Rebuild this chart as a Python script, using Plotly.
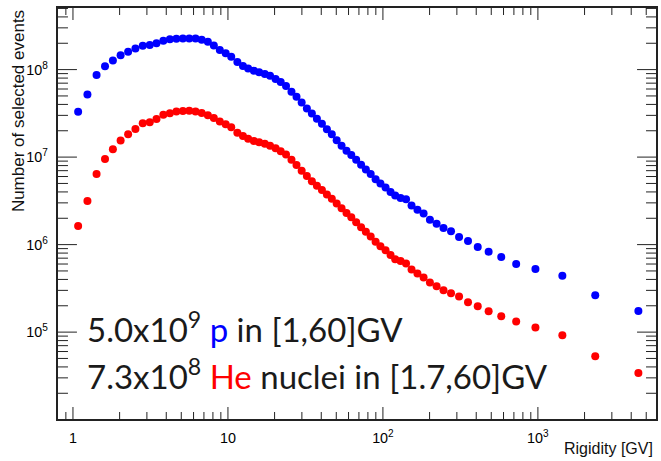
import plotly.graph_objects as go

rigidity = [1.08, 1.24, 1.42, 1.61, 1.81, 2.03, 2.27, 2.53, 2.82, 3.13,
            3.46, 3.83, 4.22, 4.65, 5.12, 5.63, 6.18, 6.77, 7.42, 8.11,
            8.86, 9.67, 10.5, 11.5, 12.5, 13.5, 14.7, 15.9, 17.3, 18.7,
            20.3, 21.9, 23.7, 25.7, 27.7, 29.9, 32.3, 34.8, 37.5, 40.4,
            43.5, 46.8, 50.3, 54.1, 58.2, 62.5, 67.2, 72.3, 77.6, 83.4,
            89.7, 96.4, 104, 112, 120, 130, 141, 153, 167, 183,
            201, 222, 246, 275, 310, 354, 409, 481,
            580, 724, 964, 1438, 2344, 4450]

protons = [3.3e7, 5.2e7, 8.7e7, 1.09e8, 1.27e8, 1.46e8, 1.60e8, 1.74e8, 1.87e8, 1.91e8,
           2.0e8, 2.14e8, 2.22e8, 2.25e8, 2.26e8, 2.27e8, 2.26e8, 2.2e8, 2.08e8, 1.88e8,
           1.68e8, 1.54e8, 1.40e8, 1.22e8, 1.10e8, 1.03e8, 9.7e7, 9.3e7, 8.9e7, 8.5e7,
           7.8e7, 7.2e7, 6.5e7, 5.6e7, 4.9e7, 4.2e7, 3.6e7, 3.15e7, 2.75e7, 2.4e7,
           2.08e7, 1.82e7, 1.56e7, 1.35e7, 1.18e7, 1.06e7, 9.3e6, 8.2e6, 7.2e6, 6.4e6,
           5.6e6, 5.0e6, 4.5e6, 4.0e6, 3.65e6, 3.4e6, 3.3e6, 2.8e6, 2.5e6, 2.26e6,
           1.92e6, 1.73e6, 1.55e6, 1.42e6, 1.22e6, 1.10e6, 9.4e5, 8.3e5,
           7.2e5, 6.0e5, 5.25e5, 4.4e5, 2.64e5, 1.74e5]

helium = [1.63e6, 3.15e6, 6.4e6, 9.5e6, 1.23e7, 1.55e7, 1.83e7, 2.1e7, 2.44e7, 2.51e7,
          2.72e7, 3.04e7, 3.18e7, 3.31e7, 3.36e7, 3.38e7, 3.33e7, 3.2e7, 3.0e7, 2.79e7,
          2.56e7, 2.38e7, 2.2e7, 1.9e7, 1.74e7, 1.62e7, 1.53e7, 1.48e7, 1.42e7, 1.35e7,
          1.26e7, 1.17e7, 1.07e7, 9.3e6, 8.1e6, 7.0e6, 6.1e6, 5.3e6, 4.7e6, 4.2e6,
          3.75e6, 3.35e6, 2.95e6, 2.6e6, 2.3e6, 2.05e6, 1.8e6, 1.58e6, 1.4e6, 1.24e6,
          1.08e6, 9.6e5, 8.6e5, 7.6e5, 6.8e5, 6.5e5, 6.1e5, 5.2e5, 4.67e5, 4.2e5,
          3.7e5, 3.35e5, 3.0e5, 2.78e5, 2.55e5, 2.2e5, 1.97e5, 1.73e5,
          1.52e5, 1.32e5, 1.13e5, 9.2e4, 5.3e4, 3.4e4]

x_major = [1, 10, 100, 1000]
x_minor = [0.9] + [m * d for d in (1, 10, 100) for m in range(2, 10)] + [2000, 3000, 4000, 5000]
y_major = [1e5, 1e6, 1e7, 1e8]
y_minor = [m * d for d in (1e4, 1e5, 1e6, 1e7) for m in range(2, 10)] + [2e8, 3e8, 4e8, 5e8]

X_RANGE = [-0.0965, 3.762]
Y_RANGE = [4.007, 8.704]
W, H = 661, 461
ML, MR, MT, MB = 58, 3, 8, 42
px_per_dec_x = (W - ML - MR) / (X_RANGE[1] - X_RANGE[0])
px_per_dec_y = (H - MT - MB) / (Y_RANGE[1] - Y_RANGE[0])

fig = go.Figure()
fig.add_trace(go.Scatter(x=rigidity, y=protons, mode="markers",
                         marker=dict(color="#0000ff", size=8),
                         showlegend=False))
fig.add_trace(go.Scatter(x=rigidity, y=helium, mode="markers",
                         marker=dict(color="#ff0000", size=8),
                         showlegend=False))

# tick marks (inside, mirrored) built from the tick value lists via the axis scales
ylo, yhi = 10 ** Y_RANGE[0], 10 ** Y_RANGE[1]
xlo, xhi = 10 ** X_RANGE[0], 10 ** X_RANGE[1]
tx, ty = [], []
for vals, ln in ((x_major, 12), (x_minor, 7)):
    f = 10 ** (ln / px_per_dec_y)
    for v in vals:
        tx += [v, v, None, v, v, None]
        ty += [ylo, ylo * f, None, yhi, yhi / f, None]
for vals, ln in ((y_major, 19), (y_minor, 10)):
    f = 10 ** (ln / px_per_dec_x)
    for v in vals:
        tx += [xlo, xlo * f, None, xhi, xhi / f, None]
        ty += [v, v, None, v, v, None]
fig.add_trace(go.Scatter(x=tx, y=ty, mode="lines", line=dict(color="#222222", width=1),
                         hoverinfo="skip", showlegend=False, cliponaxis=False))

fig.update_xaxes(type="log", range=X_RANGE,
                 showline=True, linecolor="#222222", linewidth=1.5, mirror=True,
                 ticks="", showgrid=False, zeroline=False,
                 tickmode="linear", tick0=0, dtick=1, exponentformat="power",
                 ticklabelstandoff=6,
                 tickfont=dict(family="Liberation Sans", size=11.5, color="black"))
fig.update_yaxes(type="log", range=Y_RANGE,
                 showline=True, linecolor="#222222", linewidth=1.5, mirror=True,
                 ticks="", showgrid=False, zeroline=False,
                 tickmode="linear", tick0=0, dtick=1, exponentformat="power",
                 ticklabelstandoff=6,
                 tickfont=dict(family="Liberation Sans", size=11.5, color="black"))

fig.add_annotation(text="Rigidity [GV]", xref="paper", yref="paper",
                   x=0.998, y=-0.0706, xanchor="right", yanchor="middle", showarrow=False,
                   font=dict(family="Liberation Sans", size=16, color="#111111"))
fig.add_annotation(text="Number of selected events", xref="paper", yref="paper",
                   x=-0.0667, y=1.0, xanchor="center", yanchor="top", textangle=-90,
                   showarrow=False,
                   font=dict(family="Liberation Sans", size=17, color="#111111"))

big = dict(family="Lato", size=33, color="#1a1a1a")
fig.add_annotation(text="5.0x10<sup>9</sup> <span style='color:#0000ff'>p</span> in [1,60]GV",
                   xref="paper", yref="paper", x=0.045, y=0.2246,
                   xanchor="left", yanchor="middle", showarrow=False, font=big)
fig.add_annotation(text="7.3x10<sup>8</sup> <span style='color:#ff0000'>He</span> nuclei in [1.7,60]GV",
                   xref="paper", yref="paper", x=0.045, y=0.110,
                   xanchor="left", yanchor="middle", showarrow=False, font=big)

fig.update_layout(width=W, height=H, margin=dict(l=ML, r=MR, t=MT, b=MB),
                  paper_bgcolor="white", plot_bgcolor="white")
fig.write_html("out.html")
